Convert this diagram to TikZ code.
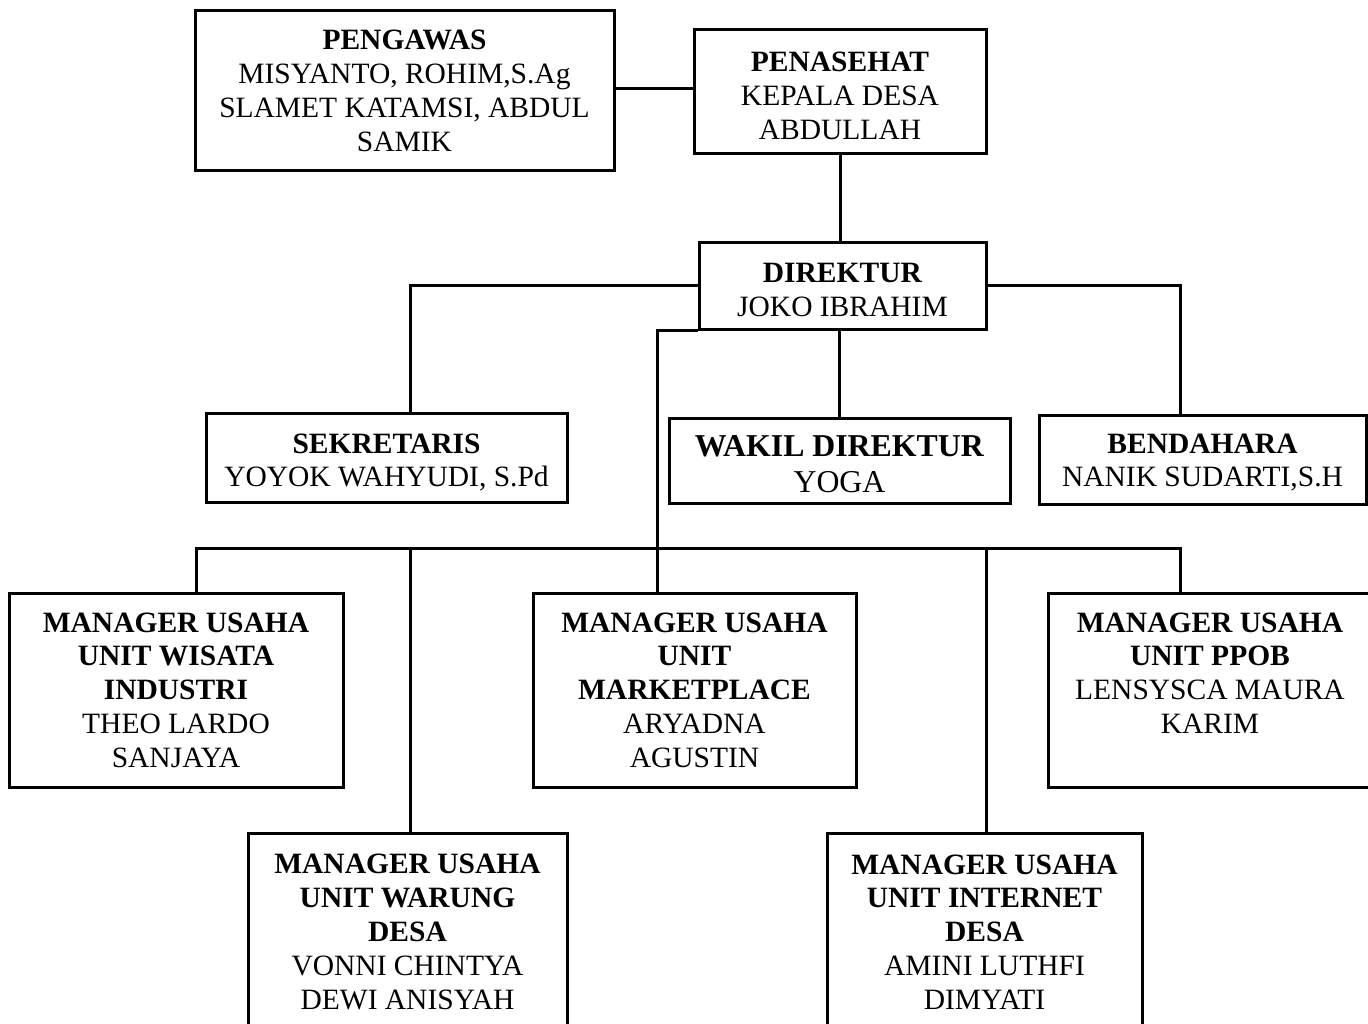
\documentclass[tikz,border=0pt]{standalone}
\usepackage{fontspec}
\setmainfont{Liberation Serif}
\newcommand\tgap[1]{\rule{0pt}{#1pt}}
\begin{document}
\begin{tikzpicture}[x=1pt,y=1pt,
  box/.style={draw, line width=3pt, align=center, inner sep=0pt,
    font=\fontsize{29.5}{33.8}\selectfont},
  con/.style={line width=3pt}]
\useasboundingbox (0,0) rectangle (1368,-1024);
\clip (0,0) rectangle (1368,-1024);
\fill[white] (0,0) rectangle (1368,-1024);
% top
\node[box, minimum width=419, minimum height=160] (peng) at (404.5,-91)
  {\textbf{PENGAWAS}\\MISYANTO, ROHIM,S.Ag\\SLAMET KATAMSI, ABDUL\\SAMIK};
\node[box, minimum width=292, minimum height=124] (pena) at (840,-92)
  {\textbf{PENASEHAT}\tgap{27.6}\\KEPALA DESA\\ABDULLAH};
\node[box, minimum width=287, minimum height=86] (dir) at (842.5,-286)
  {\textbf{DIREKTUR}\tgap{27.6}\\JOKO IBRAHIM};
% second row
\node[box, minimum width=361, minimum height=89] (sek) at (386.5,-457.5)
  {\textbf{SEKRETARIS}\tgap{29.6}\\YOYOK WAHYUDI, S.Pd};
\node[box, minimum width=341, minimum height=85, font=\fontsize{31.8}{36}\selectfont] (wak) at (839.5,-460.5)
  {\textbf{WAKIL DIREKTUR}\tgap{29.1}\\YOGA};
\node[box, minimum width=327, minimum height=89] (bend) at (1202.5,-459.5)
  {\textbf{BENDAHARA}\tgap{25.6}\\NANIK SUDARTI,S.H};
% managers
\node[box, minimum width=334, minimum height=194] (wis) at (176,-690)
  {\textbf{MANAGER USAHA}\\\textbf{UNIT WISATA}\\\textbf{INDUSTRI}\\THEO LARDO\\SANJAYA};
\node[box, minimum width=323, minimum height=194] (mkt) at (694.5,-690)
  {\textbf{MANAGER USAHA}\\\textbf{UNIT}\\\textbf{MARKETPLACE}\\ARYADNA\\AGUSTIN};
\node[box, minimum width=324, minimum height=194] (ppob) at (1210,-690)
  {\textbf{MANAGER USAHA}\\\textbf{UNIT PPOB}\\LENSYSCA MAURA\\KARIM\\\phantom{KARIM}};
\node[box, minimum width=319, minimum height=198] (war) at (407.5,-932)
  {\textbf{MANAGER USAHA}\\\textbf{UNIT WARUNG}\\\textbf{DESA}\\VONNI CHINTYA\\DEWI ANISYAH};
\node[box, minimum width=315, minimum height=198] (int) at (984.5,-932)
  {\textbf{MANAGER USAHA}\\\textbf{UNIT INTERNET}\\\textbf{DESA}\\AMINI LUTHFI\\DIMYATI};
% drop points
\coordinate (bus) at (0,-548);
\coordinate (dsek) at ([xshift=23.5pt]sek.north);
\coordinate (dbend) at ([xshift=-22.5pt]bend.north);
\coordinate (dmkt) at ([xshift=-37.5pt]mkt.north);
\coordinate (dwis) at ([xshift=20pt]wis.north);
\coordinate (dppob) at ([xshift=-30pt]ppob.north);
\coordinate (dwar) at ([xshift=2.5pt]war.north);
\coordinate (dint) at ([xshift=1.5pt]int.north);
\coordinate (dpeng) at ([yshift=2pt]peng.east);
% connectors
\draw[con] (dpeng) -- (dpeng -| pena.west);
\draw[con] (pena.south) -- (pena.south |- dir.north);
\draw[con] (dir.west) -| (dsek);
\draw[con] (dir.east) -| (dbend);
\draw[con] (dir.south -| wak.north) -- (wak.north);
\draw[con] (dir.south west) -| (dmkt);
\draw[con] (dwis) |- (bus -| dppob) -- (dppob);
\draw[con] (dwar) -- (dwar |- bus);
\draw[con] (dint) -- (dint |- bus);
\end{tikzpicture}
\end{document}
